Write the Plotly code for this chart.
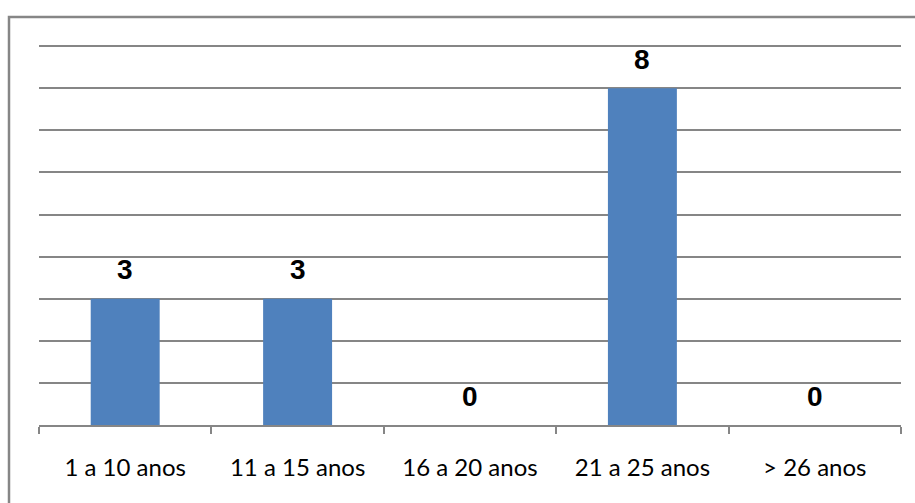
import plotly.graph_objects as go

# Data
categories = ["1 a 10 anos", "11 a 15 anos", "16 a 20 anos", "21 a 25 anos", "> 26 anos"]
values = [3, 3, 0, 8, 0]
y_max = 9

# Figure geometry (pixels)
W, H = 915, 503
ML, MR, MT, MB = 39, 14, 44, 78
PW, PH = W - ML - MR, H - MT - MB


def px_x(px):
    return (px - ML) / PW


def px_y(py):
    return (H - MB - py) / PH


BAR_COLOR = "#4F81BD"
LINE_COLOR = "#868686"

fig = go.Figure(
    go.Bar(
        x=categories,
        y=values,
        marker=dict(color=BAR_COLOR, line=dict(width=0)),
        width=0.4,
        hoverinfo="x+y",
    )
)

# Value labels above each bar
for cat, val in zip(categories, values):
    fig.add_annotation(
        x=cat,
        y=val,
        text=f"<b>{val}</b>",
        showarrow=False,
        yanchor="middle",
        yshift=29,
        font=dict(family="Liberation Sans, Arial, sans-serif", size=28, color="#000000"),
    )

# Outer chart frame
fig.add_shape(
    type="rect",
    xref="paper",
    yref="paper",
    x0=px_x(9),
    x1=px_x(W + 20),
    y0=px_y(H + 20),
    y1=px_y(17),
    line=dict(color=LINE_COLOR, width=2.5),
    fillcolor="rgba(0,0,0,0)",
    layer="above",
)

fig.update_layout(
    width=W,
    height=H,
    margin=dict(l=ML, r=MR, t=MT, b=MB, pad=0),
    paper_bgcolor="#FFFFFF",
    plot_bgcolor="#FFFFFF",
    showlegend=False,
    bargap=0.6,
    font=dict(family="Lato, Carlito, sans-serif", size=24, color="#000000"),
)

fig.update_xaxes(
    type="category",
    showline=True,
    linecolor=LINE_COLOR,
    linewidth=1.5,
    ticks="outside",
    tickson="boundaries",
    ticklen=7,
    tickwidth=1.5,
    tickcolor=LINE_COLOR,
    showgrid=False,
    tickfont=dict(family="Lato, Carlito, sans-serif", size=24, color="#000000"),
    ticklabelstandoff=20,
)

# Headroom above the top gridline so it is drawn inside the plot area
fig.update_yaxes(
    range=[0, y_max + 0.05],
    dtick=1,
    showgrid=True,
    gridcolor=LINE_COLOR,
    gridwidth=1.5,
    zeroline=False,
    showticklabels=False,
    ticks="",
    showline=False,
)

fig.write_html("out.html")
